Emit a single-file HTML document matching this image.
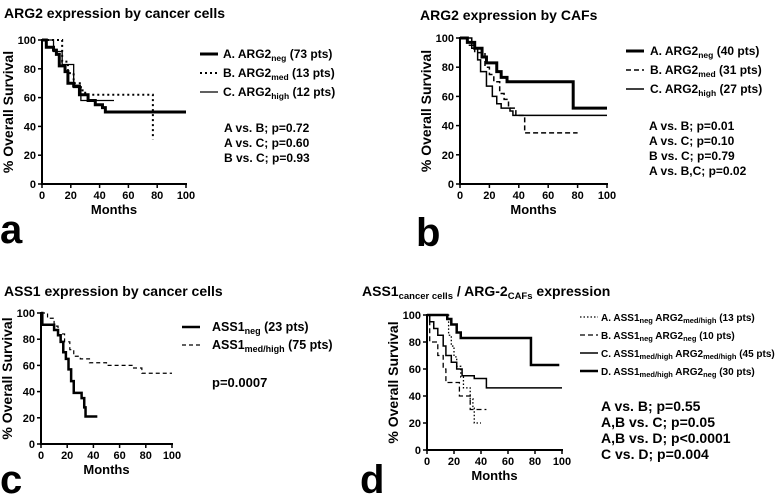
<!DOCTYPE html>
<html><head><meta charset="utf-8"><style>
body{margin:0;background:#fff}
svg{display:block;font-family:"Liberation Sans",Arial,sans-serif;font-weight:bold}
</style></head><body>
<svg id="fig" width="778" height="495" viewBox="0 0 778 495">
<text x="4" y="18" font-size="14">ARG2 expression by cancer cells</text>
<text x="420" y="20" font-size="14">ARG2 expression by CAFs</text>
<text x="4" y="296" font-size="14">ASS1 expression by cancer cells</text>
<text x="362" y="296" font-size="14">ASS1<tspan font-size="9.5" dy="3">cancer cells</tspan><tspan dy="-3"> / ARG-2</tspan><tspan font-size="9.5" dy="3">CAFs</tspan><tspan dy="-3"> expression</tspan></text>
<text x="0" y="243" font-size="40">a</text>
<text x="416" y="246" font-size="40">b</text>
<text x="0" y="493" font-size="40">c</text>
<text x="360" y="493" font-size="40">d</text>

<g font-size="12">
<text x="223" y="58">A. ARG2<tspan font-size="8.5" dy="3">neg</tspan><tspan dy="-3"> (73 pts)</tspan></text>
<text x="223" y="77">B. ARG2<tspan font-size="8.5" dy="3">med</tspan><tspan dy="-3"> (13 pts)</tspan></text>
<text x="223" y="96">C. ARG2<tspan font-size="8.5" dy="3">high</tspan><tspan dy="-3"> (12 pts)</tspan></text>
<text x="224" y="132">A vs. B; p=0.72</text><text x="224" y="147">A vs. C; p=0.60</text><text x="224" y="162">B vs. C; p=0.93</text>
</g>
<g font-size="12">
<text x="650" y="55">A. ARG2<tspan font-size="8.5" dy="3">neg</tspan><tspan dy="-3">  (40 pts)</tspan></text>
<text x="650" y="74">B. ARG2<tspan font-size="8.5" dy="3">med</tspan><tspan dy="-3"> (31 pts)</tspan></text>
<text x="650" y="93">C. ARG2<tspan font-size="8.5" dy="3">high</tspan><tspan dy="-3"> (27 pts)</tspan></text>
<text x="649" y="130">A vs. B; p=0.01</text><text x="649" y="145">A vs. C; p=0.10</text><text x="649" y="160">B vs. C; p=0.79</text><text x="649" y="175">A vs. B,C; p=0.02</text>
</g>
<g font-size="12.5">
<text x="212" y="331">ASS1<tspan font-size="9" dy="3">neg</tspan><tspan dy="-3"> (23 pts)</tspan></text>
<text x="212" y="349">ASS1<tspan font-size="9" dy="3">med/high</tspan><tspan dy="-3"> (75 pts)</tspan></text>
<text x="212" y="387" font-size="13">p=0.0007</text>
</g>
<g font-size="10">
<text x="601" y="321">A. ASS1<tspan font-size="7.5" dy="2">neg</tspan><tspan dy="-2"> ARG2</tspan><tspan font-size="7.5" dy="2">med/high</tspan><tspan dy="-2"> (13  pts)</tspan></text>
<text x="601" y="339">B. ASS1<tspan font-size="7.5" dy="2">neg</tspan><tspan dy="-2"> ARG2</tspan><tspan font-size="7.5" dy="2">neg</tspan><tspan dy="-2"> (10 pts)</tspan></text>
<text x="601" y="357">C. ASS1<tspan font-size="7.5" dy="2">med/high</tspan><tspan dy="-2"> ARG2</tspan><tspan font-size="7.5" dy="2">med/high</tspan><tspan dy="-2"> (45 pts)</tspan></text>
<text x="601" y="375">D. ASS1<tspan font-size="7.5" dy="2">med/high</tspan><tspan dy="-2"> ARG2</tspan><tspan font-size="7.5" dy="2">neg</tspan><tspan dy="-2"> (30 pts)</tspan></text>
<text x="601" y="411" font-size="14">A vs. B; p=0.55</text><text x="601" y="427" font-size="14">A,B vs. C; p=0.05</text><text x="601" y="443" font-size="14">A,B vs. D; p&lt;0.0001</text><text x="601" y="459" font-size="14">C vs. D; p=0.004</text>
</g>
</svg>
<script>
// time (months) and survival (%) arrays per series
const aT_A=[0,3,8,10,12,16,18,22,26,32,37,42,44,100], aS_A=[100,95,93,90,82,78,70,68,62,58,55,53,50,50];
const aT_B=[0,14,18,22,27,30,77,77], aS_B=[100,85,77,70,65,62,62,31];
const aT_C=[0,8,14,22,27,50], aS_C=[100,92,83,67,58,58];
const bT_A=[0,5,10,15,18,25,28,32,77,100], bS_A=[100,97,93,87,83,77,73,70,52,52];
const bT_B=[0,5,10,17,20,23,27,30,33,38,44,80], bS_B=[100,95,90,80,75,70,62,58,52,47,35,35];
const bT_C=[0,8,12,14,18,22,25,28,34,36,100], bS_C=[100,93,85,77,67,60,55,52,50,47,47];
const cT_A=[0,1,10,13,15,17,19,21,23,25,31,33,34,43], cS_A=[100,91,87,83,78,70,65,57,48,39,35,28,21,21];
const cT_B=[0,5,10,13,18,22,25,30,37,50,70,77,100], cS_B=[100,96,90,84,78,72,67,65,62,60,58,54,54];
const dT_A=[0,16,18,20,22,25,27,32,34,35,40], dS_A=[100,85,77,69,62,54,46,38,31,20,20];
const dT_B=[0,2,8,12,14,24,32,44], dS_B=[100,80,70,60,50,40,30,30];
const dT_C=[0,2,5,8,12,14,18,22,26,35,44,100], dS_C=[100,95,90,85,77,70,65,60,55,53,46,46];
const dT_D=[0,13,15,18,22,25,77,98], dS_D=[100,100,97,93,87,83,63,63];
const xTicks=[0,20,40,60,80,100], yTicks=[0,20,40,60,80,100];

const NS="http://www.w3.org/2000/svg", svg=document.getElementById('fig');
function el(tag,attrs,parent){const e=document.createElementNS(NS,tag);for(const k in attrs)e.setAttribute(k,attrs[k]);(parent||svg).appendChild(e);return e;}
function panel(id,x0,x1,y0,y1,series,legX,legY,legGap){
  const g=el('g',{});
  
  
  const sx=v=>x0+(x1-x0)*v/100, sy=v=>y0-(y0-y1)*v/100;
  const ax=el('path',{d:`M${x0},${y1-1}V${y0}H${x1+1}`,stroke:'#000','stroke-width':2,fill:'none'},g);
  
  
  xTicks.forEach(t=>{el('line',{x1:sx(t),x2:sx(t),y1:y0,y2:y0+4,stroke:'#000','stroke-width':1.5},g);
    const tx=el('text',{x:sx(t),y:y0+15,'font-size':11,'text-anchor':'middle'},g);tx.textContent=t;
    
    });
  yTicks.forEach(t=>{el('line',{x1:x0-4,x2:x0,y1:sy(t),y2:sy(t),stroke:'#000','stroke-width':1.5},g);
    const tx=el('text',{x:x0-6,y:sy(t)+4,'font-size':11,'text-anchor':'end'},g);tx.textContent=t;
    
    });
  const xl=el('text',{x:(x0+x1)/2,y:y0+30,'font-size':13,'text-anchor':'middle'},g);xl.textContent='Months';
  
  
  const cy=(y0+y1)/2;
  const yl=el('text',{x:x0-29,y:cy,'font-size':14,'text-anchor':'middle',transform:`rotate(-90 ${x0-29} ${cy})`},g);yl.textContent='% Overall Survival';
  
  
  series.forEach((s,i)=>{
    let d=`M${sx(s.t[0])},${sy(s.s[0])}`;
    for(let k=1;k<s.t.length;k++){d+=`H${sx(s.t[k])}V${sy(s.s[k])}`;}
    const p=el('path',{d,stroke:'#000','stroke-width':s.w,fill:'none','stroke-dasharray':s.dash||'none'},g);
    
    
    const ly=legY+i*legGap;
    const l=el('line',{x1:legX,x2:legX+18,y1:ly,y2:ly,stroke:'#000','stroke-width':s.w,'stroke-dasharray':s.dash||'none'},g);
    
    
  });
}
panel('a',42,186,184,40,[{t:aT_A,s:aS_A,w:3,n:'a'},{t:aT_B,s:aS_B,w:2,dash:'2,3',n:'b'},{t:aT_C,s:aS_C,w:1.3,n:'c'}],200,54,19);
panel('b',460,607,184,38,[{t:bT_A,s:bS_A,w:3,n:'a'},{t:bT_B,s:bS_B,w:1.5,dash:'5,3',n:'b'},{t:bT_C,s:bS_C,w:1.5,n:'c'}],626,51,19);
panel('c',41,172,444,313,[{t:cT_A,s:cS_A,w:2.5,n:'neg'},{t:cT_B,s:cS_B,w:1.2,dash:'4,3',n:'medhigh'}],182,327,18);
panel('d',427,562,450,315,[{t:dT_A,s:dS_A,w:1.3,dash:'1.5,2',n:'a'},{t:dT_B,s:dS_B,w:1.3,dash:'5,3',n:'b'},{t:dT_C,s:dS_C,w:1.5,n:'c'},{t:dT_D,s:dS_D,w:2.5,n:'d'}],580,317,18);
</script>
</body></html>
